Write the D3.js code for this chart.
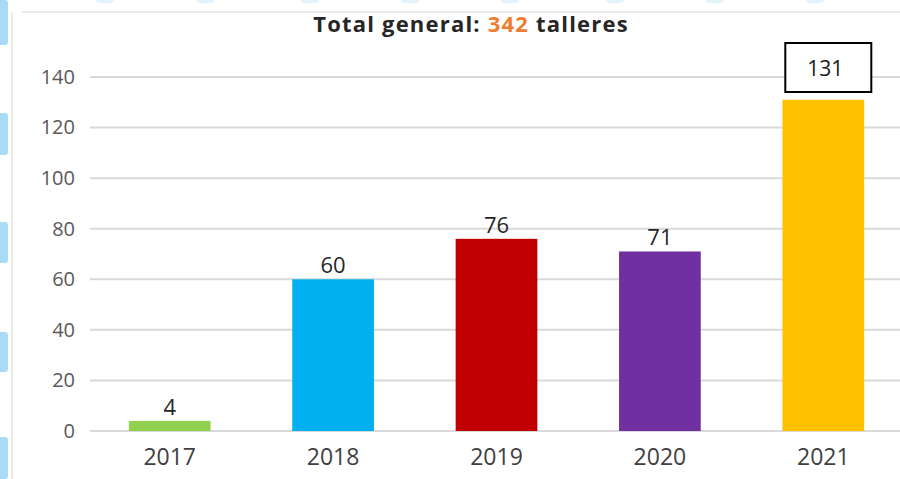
<!DOCTYPE html>
<html>
<head>
<meta charset="utf-8">
<script src="https://cdn.jsdelivr.net/npm/d3@7"></script>
<style>
  body { margin: 0; background: #fff; }
  svg { display: block; font-family: "Open Sans", "Liberation Sans", sans-serif; }
</style>
</head>
<body>
<div id="chart"></div>
<script>
// data
var years = ["2017", "2018", "2019", "2020", "2021"];
var talleres = [4, 60, 76, 71, 131];
var barColors = ["#92D050", "#00B0F0", "#C00000", "#7030A0", "#FFC000"];
var yTicks = [0, 20, 40, 60, 80, 100, 120, 140];
var total = 342;

var width = 900, height = 479;
var margin = {top: 77, right: -5, bottom: 48, left: 88};

var svg = d3.select("#chart").append("svg")
    .attr("width", width)
    .attr("height", height);

// decorative frame (slide background)
[[0, 45], [113, 155], [222, 263], [332, 372], [437, 479]].forEach(function(b) {
  svg.append("rect")
      .attr("x", -3).attr("y", b[0])
      .attr("width", 11).attr("height", b[1] - b[0])
      .attr("rx", 3)
      .style("fill", "#A9DBF6");
});
[105, 205, 310, 410, 510, 615, 715, 815].forEach(function(cx) {
  svg.append("ellipse")
      .attr("cx", cx).attr("cy", 1)
      .attr("rx", 9).attr("ry", 2.5)
      .style("fill", "#E3F3FC");
});
svg.append("line")
    .attr("x1", 12).attr("x2", 12).attr("y1", 12).attr("y2", height)
    .style("stroke", "#e3e3e3").style("stroke-width", 1.5);
svg.append("line")
    .attr("x1", 22).attr("x2", width).attr("y1", 12).attr("y2", 12)
    .style("stroke", "#e3e3e3").style("stroke-width", 1.5);

// scales
var xScale = d3.scaleBand()
    .domain(years)
    .range([margin.left, width - margin.right])
    .paddingInner(0.5)
    .paddingOuter(0.25);

var yScale = d3.scaleLinear()
    .domain([0, 140])
    .range([height - margin.bottom, margin.top]);

// gridlines
svg.append("g")
    .selectAll("line")
    .data(yTicks)
  .enter().append("line")
    .attr("x1", 90)
    .attr("x2", width)
    .attr("y1", function(d) { return yScale(d); })
    .attr("y2", function(d) { return yScale(d); })
    .style("stroke", "#d9d9d9")
    .style("stroke-width", 2);

// y-axis labels
var yAxis = d3.axisLeft(yScale).tickValues(yTicks).tickSize(0).tickPadding(0);
svg.append("g")
    .attr("transform", "translate(75,0)")
    .call(yAxis)
    .call(function(g) { g.select(".domain").remove(); })
    .selectAll("text")
    .style("font-size", "20px")
    .style("font-family", "'Open Sans', sans-serif")
    .style("fill", "#595959");

// x-axis labels
var xAxis = d3.axisBottom(xScale).tickSize(0).tickPadding(0);
svg.append("g")
    .attr("transform", "translate(0,449)")
    .call(xAxis)
    .call(function(g) { g.select(".domain").remove(); })
    .selectAll("text")
    .style("font-size", "23px")
    .style("font-family", "'Open Sans', sans-serif")
    .style("fill", "#404040");

// bars
var rows = years.map(function(y, i) { return {year: y, value: talleres[i], color: barColors[i]}; });

svg.selectAll(".bar")
    .data(rows)
  .enter().append("rect")
    .attr("class", "bar")
    .attr("x", function(d) { return xScale(d.year); })
    .attr("width", xScale.bandwidth())
    .attr("y", function(d) { return yScale(d.value); })
    .attr("height", function(d) { return yScale(0) - yScale(d.value); })
    .style("fill", function(d) { return d.color; });

// value labels (last one sits in a box)
var last = rows[rows.length - 1];
rows.slice(0, -1).forEach(function(d) {
  svg.append("text")
      .attr("x", xScale(d.year) + xScale.bandwidth() / 2)
      .attr("y", yScale(d.value) - 6)
      .attr("text-anchor", "middle")
      .style("font-size", "22px")
      .style("fill", "#262626")
      .text(d.value);
});

var bx = xScale(last.year) + xScale.bandwidth() / 2 + 5;
svg.append("rect")
    .attr("x", bx - 43).attr("y", 43)
    .attr("width", 86).attr("height", 49)
    .style("fill", "#fff")
    .style("stroke", "#000")
    .style("stroke-width", 2);
svg.append("text")
    .attr("x", bx - 3)
    .attr("y", 76)
    .attr("text-anchor", "middle")
    .style("font-size", "21px")
    .style("fill", "#1a1a1a")
    .text(last.value);

// title
var title = svg.append("text")
    .attr("x", 471)
    .attr("y", 32)
    .attr("text-anchor", "middle")
    .style("font-size", "22px")
    .style("font-weight", "bold")
    .style("letter-spacing", "1.2px")
    .style("fill", "#262626");
title.append("tspan").text("Total general: ");
title.append("tspan").style("fill", "#ED7D31").text(total);
title.append("tspan").text(" talleres");
</script>
</body>
</html>
